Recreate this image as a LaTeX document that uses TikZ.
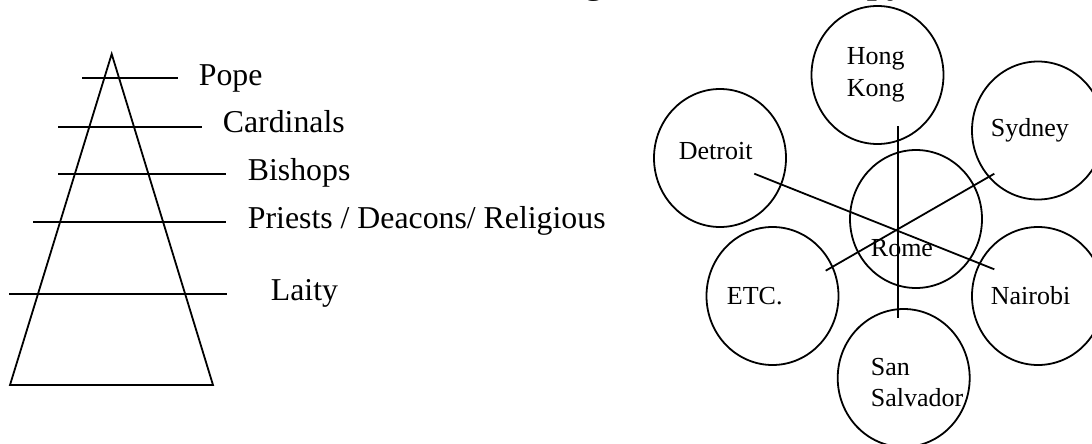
\documentclass[tikz,border=0pt]{standalone}
\usepackage{fontspec}
\setmainfont{Liberation Serif}
\usetikzlibrary{shapes.geometric}
\begin{document}
\begin{tikzpicture}[x=1pt,y=-1pt,line width=1.8pt,
  city/.style={draw,ellipse,minimum width=132pt,minimum height=138pt,inner sep=0pt},
  rank/.style={anchor=base west,font=\fontsize{31.8}{36}\selectfont,inner sep=0pt},
  clab/.style={anchor=base west,font=\fontsize{26}{31}\selectfont,inner sep=0pt},
  ttl/.style={anchor=base west,font=\bfseries\fontsize{36}{40}\selectfont,inner sep=0pt}]
\useasboundingbox (0,0) rectangle (1092,444);
% clipped title remnants
\node[ttl] (t1) at (584,-6) {g};
\node[ttl] (t2) at (866,-6) {py};
% pyramid
\coordinate (apex) at (111.7,54);
\coordinate (bl) at (10,385);
\coordinate (br) at (213,385);
\draw (apex) -- (bl) -- (br) -- cycle;
\coordinate (p1) at (82,78.3);   \coordinate (p2) at (178,78.3);
\coordinate (c1) at (58,126.7);  \coordinate (c2) at (202,126.7);
\coordinate (b1) at (58,174.3);  \coordinate (b2) at (226,174.3);
\coordinate (r1) at (33,222.3);  \coordinate (r2) at (226,222.3);
\coordinate (l1) at (9,294.3);   \coordinate (l2) at (227,294.3);
\draw (p1) -- (p2);
\draw (c1) -- (c2);
\draw (b1) -- (b2);
\draw (r1) -- (r2);
\draw (l1) -- (l2);
\node[rank] (pope) at (198,85) {Pope};
\node[rank] (card) at (222,132) {Cardinals};
\node[rank] (bish) at (247,180) {Bishops};
\node[rank] (prie) at (247,228) {Priests / Deacons/ Religious};
\node[rank] (lait) at (270,300.5) {Laity};
% cities
\node[city] (hk) at (877.5,75) {};
\node[city] (syd) at (1038,130.5) {};
\node[city] (det) at (720,158) {};
\node[city] (rome) at (916,219) {};
\node[city] (etc) at (772.5,296) {};
\node[city] (nai) at (1038,296) {};
\node[city] (ss) at (903.7,378) {};
\node[clab] (hk1) at (846,65) {Hong};
\node[clab] (hk2) at (846,96.7) {Kong};
\node[clab] (sydl) at (990,136) {Sydney};
\node[clab] (detl) at (678,159.3) {Detroit};
\node[clab] (romel) at (870,256) {Rome};
\node[clab] (etcl) at (726,304) {ETC.};
\node[clab] (nail) at (990,304) {Nairobi};
\node[clab] (ss1) at (870,375.7) {San};
\node[clab] (ss2) at (870,406.7) {Salvador};
% spokes
\coordinate (vt) at (898.3,126);
\coordinate (vb) at (898.3,318.3);
\coordinate (dt) at (754.3,173.7);
\coordinate (nb) at (994.3,269.3);
\coordinate (sy) at (994.3,173.7);
\coordinate (ec) at (825.7,270.7);
\draw (vt) -- (vb);
\draw (dt) -- (nb);
\draw (sy) -- (ec);
\end{tikzpicture}
\end{document}
